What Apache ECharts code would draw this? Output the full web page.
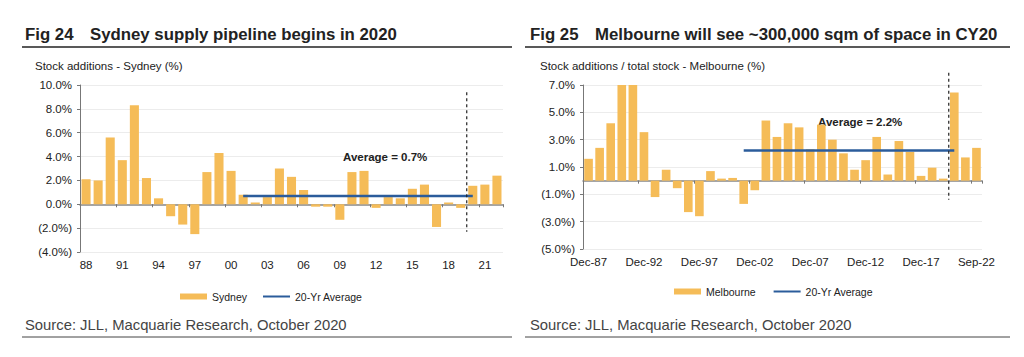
<!DOCTYPE html>
<html><head><meta charset="utf-8">
<script src="https://cdn.jsdelivr.net/npm/echarts@6/dist/echarts.min.js"></script>
<style>html,body{margin:0;padding:0;background:#fff}#c{width:1024px;height:357px}</style>
</head><body><div id="c"></div>
<script>
// ---------- DATA ----------
const sydneyYears = ['88','89','90','91','92','93','94','95','96','97','98','99','00','01','02','03','04','05','06','07','08','09','10','11','12','13','14','15','16','17','18','19','20','21','22'];
const sydneyValues = [2.1, 2.0, 5.6, 3.7, 8.3, 2.2, 0.5, -1.0, -1.7, -2.5, 2.7, 4.3, 2.8, 0.8, 0.15, 0.6, 3.0, 2.3, 1.2, -0.2, -0.2, -1.3, 2.7, 2.8, -0.3, 0.6, 0.5, 1.3, 1.65, -1.9, 0.15, -0.3, 1.55, 1.65, 2.4];
const sydneyAverage = 0.7;
const sydneyAverageSpan = ['01', '20'];
const sydneyForecastAfter = ['19', '20'];
const sydneyYTicks = [-4, -2, 0, 2, 4, 6, 8, 10];

const melbournePeriods = ['Dec-87','Dec-88','Dec-89','Dec-90','Dec-91','Dec-92','Dec-93','Dec-94','Dec-95','Dec-96','Dec-97','Dec-98','Dec-99','Dec-00','Dec-01','Dec-02','Dec-03','Dec-04','Dec-05','Dec-06','Dec-07','Dec-08','Dec-09','Dec-10','Dec-11','Dec-12','Dec-13','Dec-14','Dec-15','Dec-16','Dec-17','Dec-18','Dec-19','Dec-20','Dec-21','Sep-22'];
const melbourneValues = [1.6, 2.4, 4.2, 7.0, 7.0, 3.55, -1.2, 0.8, -0.55, -2.3, -2.6, 0.7, 0.15, 0.2, -1.7, -0.7, 4.4, 3.2, 4.2, 3.9, 2.3, 4.1, 3.0, 2.0, 0.8, 1.5, 3.2, 0.45, 2.9, 2.1, 0.35, 0.95, 0.15, 6.45, 1.7, 2.4];
const melbourneAverage = 2.2;
const melbourneAverageSpan = ['Dec-01', 'Dec-20'];
const melbourneForecastAfter = ['Dec-19', 'Dec-20'];
const melbourneYTicks = [-5, -3, -1, 1, 3, 5, 7];

// ---------- STYLE ----------
const FONT = "'Liberation Sans', Arial, sans-serif";
const BAR = '#F5BC58';
const BLUE = '#2B5C9B';
const TXT = '#222';

const pct = v => v < 0 ? '(' + (-v).toFixed(1) + '%)' : v.toFixed(1) + '%';

function yAxisFor(gridIndex, ticks) {
  return {
    type: 'value', gridIndex,
    min: ticks[0], max: ticks[ticks.length - 1], interval: ticks[1] - ticks[0],
    axisLine: { show: true, lineStyle: { color: '#777', width: 1 } },
    axisTick: { show: true, length: 3, lineStyle: { color: '#777' } },
    splitLine: { show: true, lineStyle: { color: '#ececec', width: 1 } },
    axisLabel: { formatter: pct, color: TXT, fontSize: 11.5, fontFamily: FONT, margin: 8 }
  };
}
function xAxisFor(gridIndex, cats, every, margin) {
  return {
    type: 'category', gridIndex, data: cats, boundaryGap: true,
    axisLine: { show: true, onZero: true, lineStyle: { color: '#888', width: 1.5 } },
    axisTick: { show: true, length: 3, interval: every - 1, lineStyle: { color: '#777' } },
    axisLabel: { interval: every - 1, color: TXT, fontSize: 11.5, fontFamily: FONT, margin, hideOverlap: false },
    splitLine: { show: false }
  };
}

const chart = echarts.init(document.getElementById('c'), null, { renderer: 'svg' });

const TITLE_FONT = "bold 16.8px " + FONT;
const staticGraphics = [
  // Left panel header
  { type: 'text', left: 25, top: 26, style: { text: 'Fig 24', font: TITLE_FONT, fill: TXT } },
  { type: 'text', left: 90, top: 26, style: { text: 'Sydney supply pipeline begins in 2020', font: TITLE_FONT, fill: TXT } },
  { type: 'line', shape: { x1: 22, y1: 47, x2: 512, y2: 47 }, style: { stroke: '#222', lineWidth: 1.6 } },
  { type: 'text', left: 35, top: 60, style: { text: 'Stock additions - Sydney (%)', font: "11.5px " + FONT, fill: TXT } },
  { type: 'text', left: 25, top: 317, style: { text: 'Source: JLL, Macquarie Research, October 2020', font: "14.8px " + FONT, fill: '#444' } },
  { type: 'line', shape: { x1: 22, y1: 337, x2: 512, y2: 337 }, style: { stroke: '#444', lineWidth: 1 } },
  { type: 'text', left: 343, top: 151, style: { text: 'Average = 0.7%', font: "bold 11.5px " + FONT, fill: TXT } },
  // Right panel header
  { type: 'text', left: 530, top: 26, style: { text: 'Fig 25', font: TITLE_FONT, fill: TXT } },
  { type: 'text', left: 595, top: 26, style: { text: 'Melbourne will see ~300,000 sqm of space in CY20', font: TITLE_FONT, fill: TXT } },
  { type: 'line', shape: { x1: 525, y1: 47, x2: 1010, y2: 47 }, style: { stroke: '#222', lineWidth: 1.6 } },
  { type: 'text', left: 540, top: 60, style: { text: 'Stock additions / total stock - Melbourne (%)', font: "11.5px " + FONT, fill: TXT } },
  { type: 'text', left: 530, top: 317, style: { text: 'Source: JLL, Macquarie Research, October 2020', font: "14.8px " + FONT, fill: '#444' } },
  { type: 'line', shape: { x1: 525, y1: 337, x2: 1010, y2: 337 }, style: { stroke: '#444', lineWidth: 1 } },
  { type: 'text', left: 818, top: 116, style: { text: 'Average = 2.2%', font: "bold 11.5px " + FONT, fill: TXT } }
];

const option = {
  animation: false,
  backgroundColor: '#fff',
  textStyle: { fontFamily: FONT },
  grid: [
    { left: 80, top: 85, width: 423, height: 167, containLabel: false },
    { left: 583, top: 85, width: 399, height: 164, containLabel: false }
  ],
  xAxis: [
    xAxisFor(0, sydneyYears, 3, 7),
    xAxisFor(1, melbournePeriods, 5, 7)
  ],
  yAxis: [
    yAxisFor(0, sydneyYTicks),
    yAxisFor(1, melbourneYTicks)
  ],
  legend: [
    { left: 175, top: 286, itemWidth: 27, itemHeight: 6, itemGap: 15,
      data: [{ name: 'Sydney', icon: 'rect' }, { name: '20-Yr Average', itemStyle: { opacity: 0 } }],
      textStyle: { fontSize: 10.5, color: TXT, fontFamily: FONT } },
    { left: 669, top: 281, itemWidth: 27, itemHeight: 6, itemGap: 17,
      data: [{ name: 'Melbourne', icon: 'rect' }, { name: '20-Yr Average ', itemStyle: { opacity: 0 } }],
      textStyle: { fontSize: 10.5, color: TXT, fontFamily: FONT } }
  ],
  series: [
    { name: 'Sydney', type: 'bar', xAxisIndex: 0, yAxisIndex: 0, data: sydneyValues,
      barCategoryGap: '25%', itemStyle: { color: BAR } },
    { name: '20-Yr Average', type: 'line', xAxisIndex: 0, yAxisIndex: 0,
      data: [[sydneyAverageSpan[0], sydneyAverage], [sydneyAverageSpan[1], sydneyAverage]],
      symbol: 'none', lineStyle: { color: BLUE, width: 2.5 }, itemStyle: { color: BLUE }, z: 3 },
    { name: 'Melbourne', type: 'bar', xAxisIndex: 1, yAxisIndex: 1, data: melbourneValues,
      barCategoryGap: '22%', itemStyle: { color: BAR } },
    { name: '20-Yr Average ', type: 'line', xAxisIndex: 1, yAxisIndex: 1,
      data: [[melbourneAverageSpan[0], melbourneAverage], [melbourneAverageSpan[1], melbourneAverage]],
      symbol: 'none', lineStyle: { color: BLUE, width: 2.5 }, itemStyle: { color: BLUE }, z: 3 }
  ],
  graphic: staticGraphics
};
chart.setOption(option);

// Dashed forecast separators, positioned through the library's scales
function separator(gridIndex, pair, yTop, yBottom) {
  const a = chart.convertToPixel({ gridIndex }, [pair[0], yTop]);
  const b = chart.convertToPixel({ gridIndex }, [pair[1], yBottom]);
  const x = (a[0] + b[0]) / 2;
  return { type: 'line', shape: { x1: x, y1: a[1], x2: x, y2: b[1] },
           style: { stroke: '#222', lineWidth: 1.2, lineDash: [3, 3] }, z: 10 };
}
const dashed = [
  separator(0, sydneyForecastAfter, 9.4, -2.3),
  separator(1, melbourneForecastAfter, 7.9, -1.4)
];
chart.setOption({ graphic: staticGraphics.concat(dashed) }, { replaceMerge: ['graphic'] });
</script>
</body></html>
